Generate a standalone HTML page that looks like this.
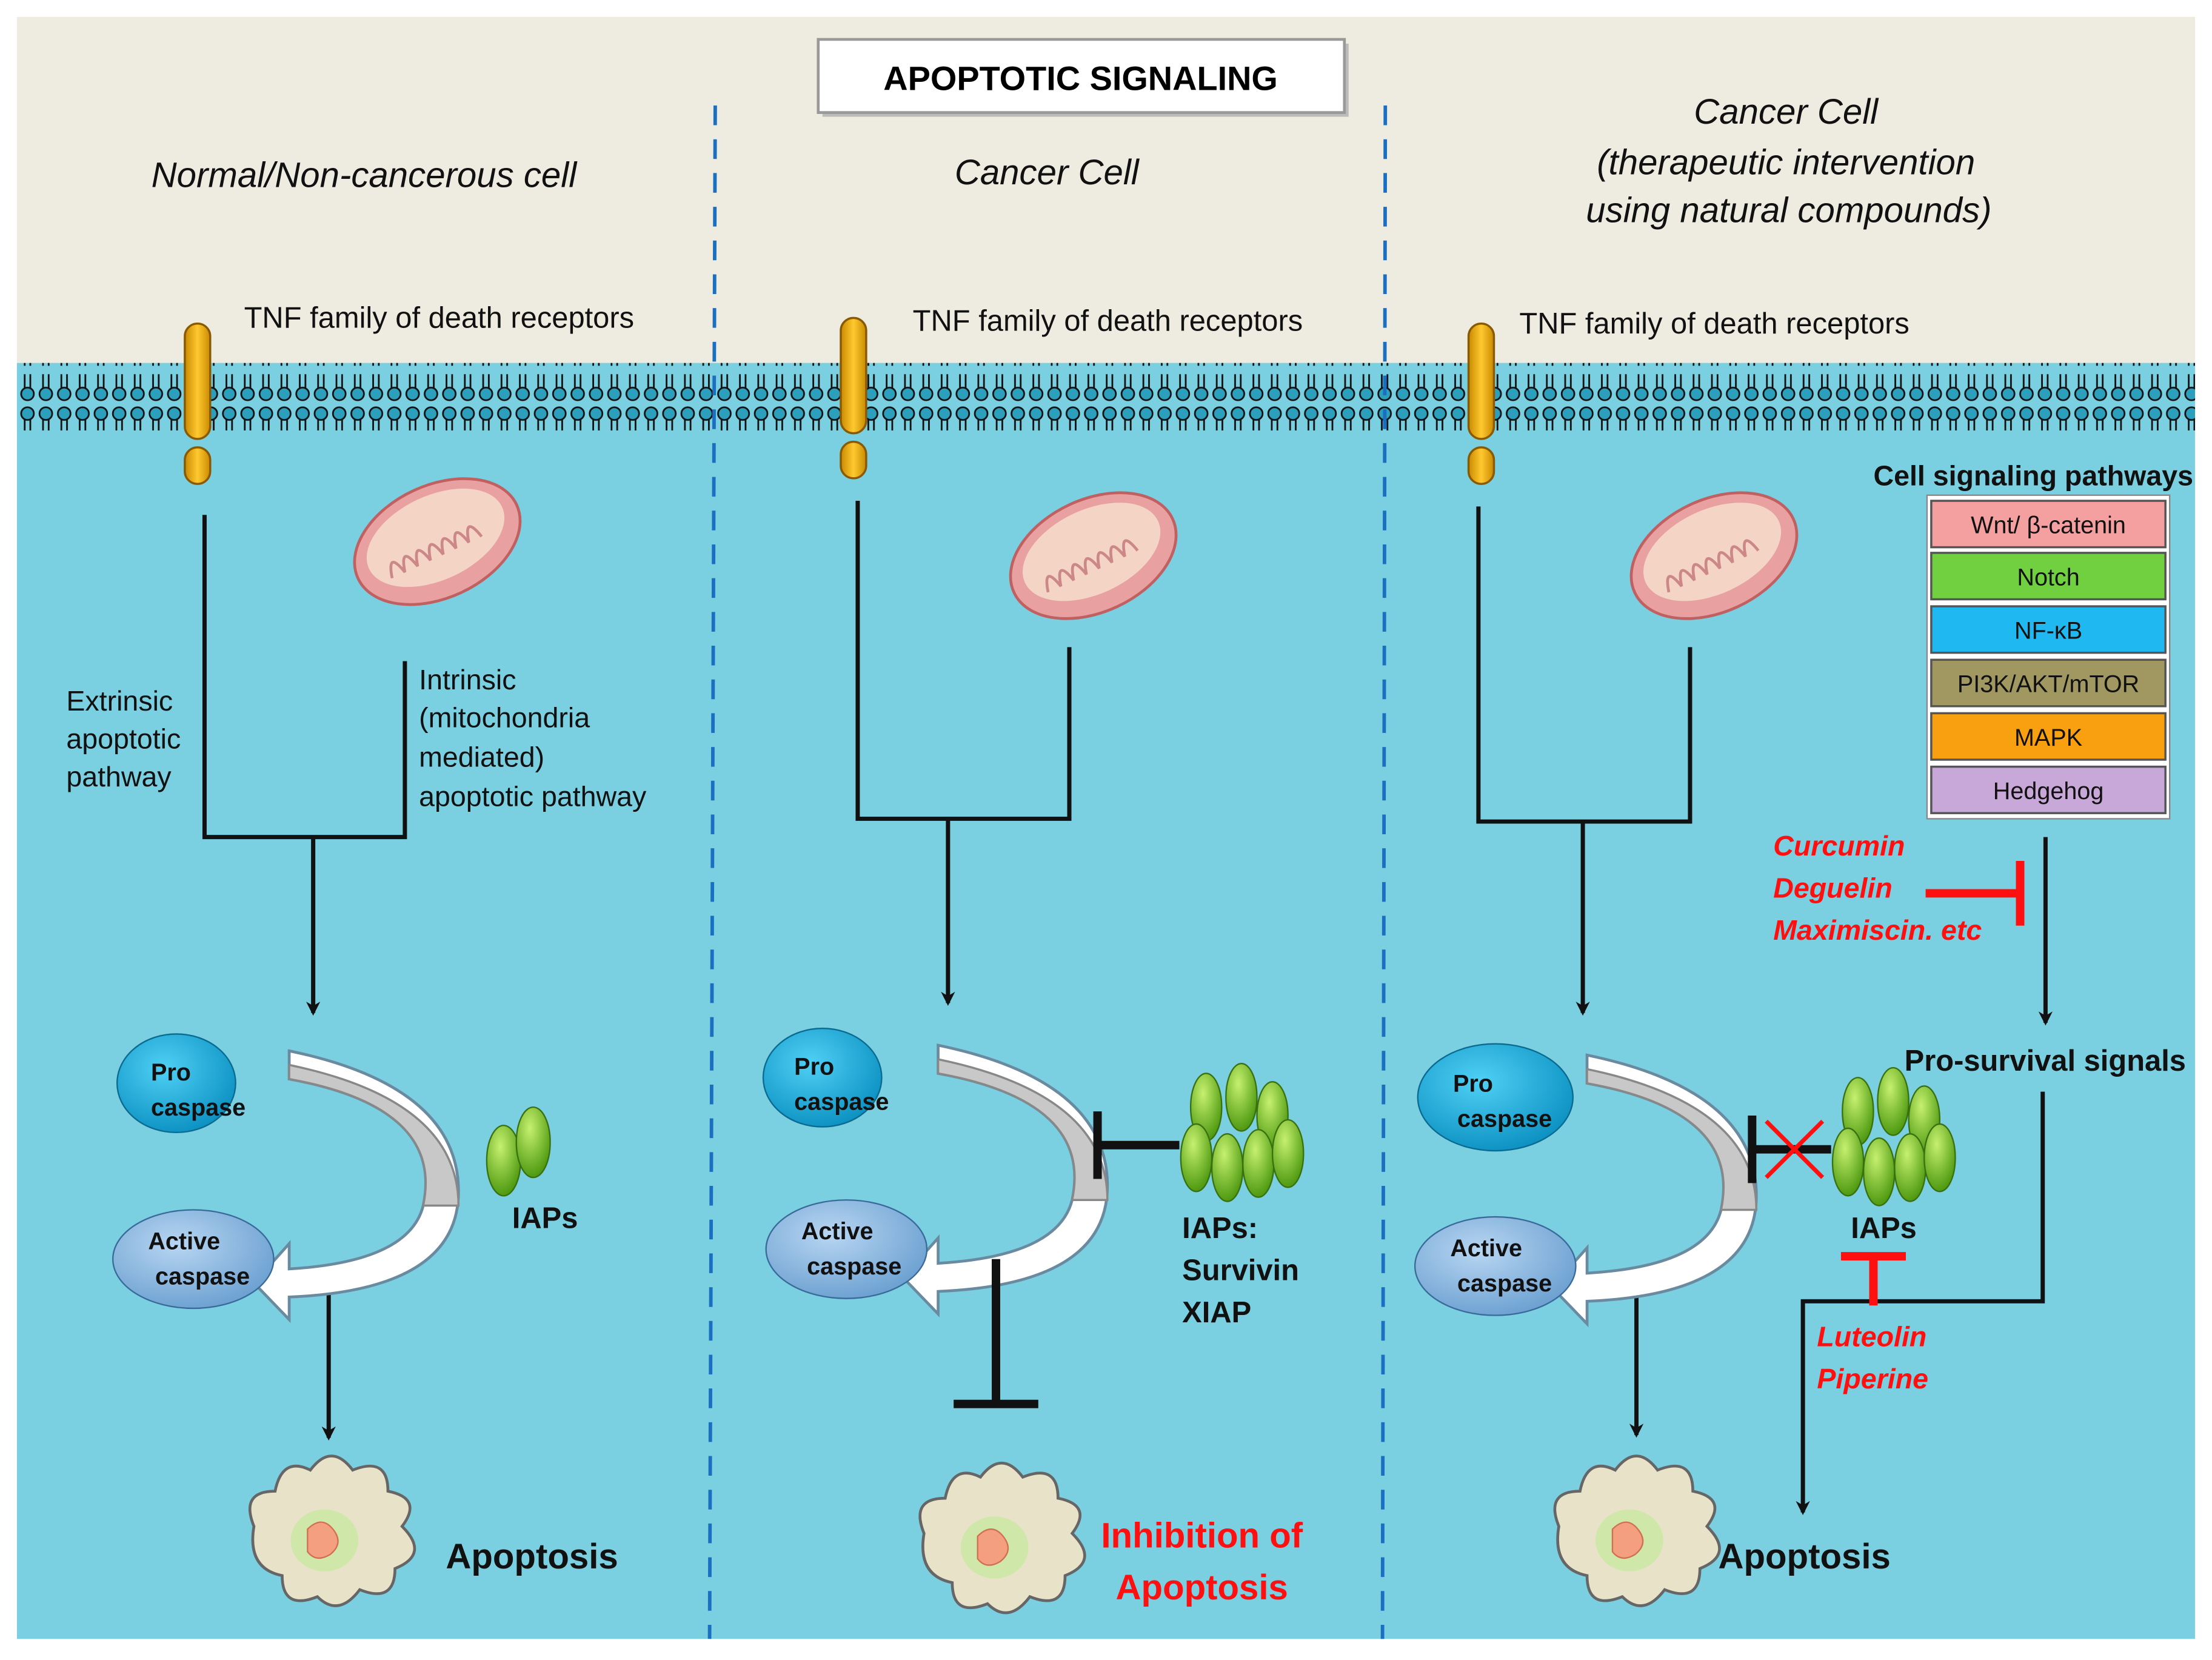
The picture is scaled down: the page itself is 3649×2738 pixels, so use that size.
<!DOCTYPE html>
<html><head><meta charset="utf-8"><style>
html,body{margin:0;padding:0;background:#fff;}
svg{display:block;}
text{font-family:"Liberation Sans",Arial,sans-serif;}
</style></head><body>
<svg width="3649" height="2738" viewBox="0 0 1568 1180" preserveAspectRatio="none" xmlns="http://www.w3.org/2000/svg">
<defs>
<pattern id="lip" x="0" y="0" width="13" height="48" patternUnits="userSpaceOnUse">
<rect width="13" height="48" fill="#7acfe0"/>
<circle cx="6.5" cy="6" r="4.5" fill="#2c9fbd" stroke="#111" stroke-width="1.2"/>
<path d="M4.5 10 L4.5 20 M8.5 10 L8.5 20" stroke="#111" stroke-width="1.2"/>
<circle cx="6.5" cy="40" r="4.5" fill="#2c9fbd" stroke="#111" stroke-width="1.2"/>
<path d="M4.5 26 L4.5 36 M8.5 26 L8.5 36" stroke="#111" stroke-width="1.2"/>
</pattern>
<linearGradient id="rec" x1="0" x2="1"><stop offset="0" stop-color="#c98a00"/><stop offset=".5" stop-color="#ffc830"/><stop offset="1" stop-color="#c98a00"/></linearGradient>
<radialGradient id="pro" cx=".4" cy=".35" r=".7"><stop offset="0" stop-color="#4fd0f5"/><stop offset="1" stop-color="#0a8fc0"/></radialGradient>
<radialGradient id="act" cx=".4" cy=".35" r=".7"><stop offset="0" stop-color="#b8d6f2"/><stop offset="1" stop-color="#6a9fd0"/></radialGradient>
<radialGradient id="iap" cx=".4" cy=".3" r=".7"><stop offset="0" stop-color="#c6f070"/><stop offset="1" stop-color="#4e9a10"/></radialGradient>
<marker id="ar" markerWidth="10" markerHeight="10" refX="8" refY="5" orient="auto" markerUnits="userSpaceOnUse"><path d="M0 0 L10 5 L0 10 L3 5 Z" fill="#111"/></marker>
<g id="mito">
<ellipse cx="0" cy="0" rx="62" ry="40" fill="#e8a0a0" stroke="#c06060" stroke-width="2" transform="rotate(-25)"/>
<ellipse cx="0" cy="-3" rx="52" ry="30" fill="#f4d4c4" transform="rotate(-25)"/>
<path d="M-40 10 q5 -20 10 0 q5 -20 10 0 q5 -20 10 0 q5 -20 10 0 q5 -20 10 0 q5 -20 10 0 q5 -20 10 0" fill="none" stroke="#c88" stroke-width="2" transform="rotate(-25)"/>
</g>
<g id="cell">
<path d="M-50 -10 q-10 -25 15 -25 q5 -25 25 -15 q15 -20 30 0 q25 -10 25 15 q25 5 10 25 q20 20 -5 30 q0 25 -25 15 q-15 20 -30 5 q-25 10 -25 -15 q-25 -5 -20 -35 z" fill="#e8e2c8" stroke="#666" stroke-width="2"/>
<ellipse cx="0" cy="0" rx="24" ry="22" fill="#c8e8a0" opacity=".8"/>
<path d="M-12 -8 q10 -10 18 0 q8 10 -2 18 q-10 6 -16 -2 z" fill="#f4a080" stroke="#d07050"/>
</g>
<g id="rcp">
<rect x="-9" y="0" width="18" height="82" rx="9" fill="url(#rec)" stroke="#8a5a00" stroke-width="1.5"/>
<rect x="-9" y="88" width="18" height="26" rx="9" fill="url(#rec)" stroke="#8a5a00" stroke-width="1.5"/>
</g>
<g id="casp">
<path d="M0 0 q110 20 95 90 q-10 40 -95 45 l0 -18 l-25 28 l25 26 l0 -16 q120 -5 120 -75 q0 -75 -120 -100 z" fill="#fff" stroke="#6a8aa0" stroke-width="2"/>
<path d="M0 0 q110 20 95 90 l25 0 q0 -75 -120 -100 z" fill="#c8c8c8" stroke="#888" stroke-width="1.5"/>
</g>
</defs>

<rect x="12" y="12" width="1544" height="255" fill="#eeece1"/>
<rect x="12" y="262" width="1544" height="903" fill="#7acfe0"/>
<rect x="12" y="258" width="1544" height="48" fill="url(#lip)"/>

<line x1="507" y1="75" x2="503" y2="1165" stroke="#1a6fc0" stroke-width="2.5" stroke-dasharray="14 10"/>
<line x1="982" y1="75" x2="980" y2="1165" stroke="#1a6fc0" stroke-width="2.5" stroke-dasharray="14 10"/>

<rect x="583" y="31" width="373" height="52" fill="#bbb"/>
<rect x="580" y="28" width="373" height="52" fill="#fff" stroke="#999" stroke-width="2"/>
<text x="766" y="64" font-size="24" font-weight="bold" text-anchor="middle">APOPTOTIC SIGNALING</text>

<g font-style="italic" font-size="25" text-anchor="middle" fill="#111">
<text x="258" y="133">Normal/Non-cancerous  cell</text>
<text x="742" y="131">Cancer Cell</text>
<text x="1266" y="88">Cancer Cell</text>
<text x="1266" y="124">(therapeutic intervention</text>
<text x="1268" y="158">using natural compounds)</text>
</g>
<g font-size="21" fill="#111">
<text x="173" y="233">TNF family of death receptors</text>
<text x="647" y="235">TNF family of death receptors</text>
<text x="1077" y="237">TNF family of death receptors</text>
</g>

<use href="#rcp" x="140" y="230"/>
<use href="#rcp" x="605" y="226"/>
<use href="#rcp" x="1050" y="230"/>

<use href="#mito" x="310" y="385"/>
<use href="#mito" x="775" y="395"/>
<use href="#mito" x="1215" y="395"/>

<g stroke="#111" stroke-width="3" fill="none">
<polyline points="145,366 145,595 287,595 287,470"/>
<line x1="222" y1="595" x2="222" y2="720" marker-end="url(#ar)"/>
<polyline points="608,356 608,582 758,582 758,460"/>
<line x1="672" y1="582" x2="672" y2="713" marker-end="url(#ar)"/>
<polyline points="1048,360 1048,584 1198,584 1198,460"/>
<line x1="1122" y1="584" x2="1122" y2="720" marker-end="url(#ar)"/>
<line x1="233" y1="910" x2="233" y2="1022" marker-end="url(#ar)"/>
<line x1="1160" y1="910" x2="1160" y2="1020" marker-end="url(#ar)"/>
<line x1="1450" y1="595" x2="1450" y2="727" marker-end="url(#ar)"/>
<polyline points="1448,776 1448,925 1278,925 1278,1075" marker-end="url(#ar)"/>
</g>
<g font-size="20" fill="#111">
<text x="47" y="505">Extrinsic</text><text x="47" y="532">apoptotic</text><text x="47" y="559">pathway</text>
<text x="297" y="490">Intrinsic</text><text x="297" y="517">(mitochondria</text><text x="297" y="545">mediated)</text><text x="297" y="573">apoptotic pathway</text>
</g>

<!-- caspases -->
<use href="#casp" x="205" y="767"/>
<use href="#casp" x="665" y="763"/>
<use href="#casp" x="1125" y="770"/>
<g font-size="17" font-weight="bold" fill="#111" stroke="none">
<ellipse cx="125" cy="770" rx="42" ry="35" fill="url(#pro)" stroke="#0a6a90"/>
<text x="107" y="768">Pro</text><text x="107" y="793">caspase</text>
<ellipse cx="137" cy="895" rx="57" ry="35" fill="url(#act)" stroke="#3a6a9a"/>
<text x="105" y="888">Active</text><text x="110" y="913">caspase</text>
<ellipse cx="583" cy="766" rx="42" ry="35" fill="url(#pro)" stroke="#0a6a90"/>
<text x="563" y="764">Pro</text><text x="563" y="789">caspase</text>
<ellipse cx="600" cy="888" rx="57" ry="35" fill="url(#act)" stroke="#3a6a9a"/>
<text x="568" y="881">Active</text><text x="572" y="906">caspase</text>
<ellipse cx="1060" cy="780" rx="55" ry="38" fill="url(#pro)" stroke="#0a6a90"/>
<text x="1030" y="776">Pro</text><text x="1033" y="801">caspase</text>
<ellipse cx="1060" cy="900" rx="57" ry="35" fill="url(#act)" stroke="#3a6a9a"/>
<text x="1028" y="893">Active</text><text x="1033" y="918">caspase</text>
</g>

<!-- IAPs -->
<g stroke="#3a7010" stroke-width="1">
<ellipse cx="357" cy="825" rx="12" ry="25" fill="url(#iap)"/>
<ellipse cx="378" cy="812" rx="12" ry="25" fill="url(#iap)"/>
<g transform="translate(880,815)">
<ellipse cx="-25" cy="-28" rx="11" ry="24" fill="url(#iap)"/><ellipse cx="0" cy="-35" rx="11" ry="24" fill="url(#iap)"/><ellipse cx="22" cy="-22" rx="11" ry="24" fill="url(#iap)"/>
<ellipse cx="-32" cy="8" rx="11" ry="24" fill="url(#iap)"/><ellipse cx="-10" cy="15" rx="11" ry="24" fill="url(#iap)"/><ellipse cx="12" cy="12" rx="11" ry="24" fill="url(#iap)"/><ellipse cx="33" cy="5" rx="11" ry="24" fill="url(#iap)"/>
</g>
<g transform="translate(1342,818)">
<ellipse cx="-25" cy="-28" rx="11" ry="24" fill="url(#iap)"/><ellipse cx="0" cy="-35" rx="11" ry="24" fill="url(#iap)"/><ellipse cx="22" cy="-22" rx="11" ry="24" fill="url(#iap)"/>
<ellipse cx="-32" cy="8" rx="11" ry="24" fill="url(#iap)"/><ellipse cx="-10" cy="15" rx="11" ry="24" fill="url(#iap)"/><ellipse cx="12" cy="12" rx="11" ry="24" fill="url(#iap)"/><ellipse cx="33" cy="5" rx="11" ry="24" fill="url(#iap)"/>
</g>
</g>
<g font-size="21" font-weight="bold" fill="#111">
<text x="363" y="873">IAPs</text>
<text x="838" y="880">IAPs:</text><text x="838" y="910">Survivin</text><text x="838" y="940">XIAP</text>
<text x="1312" y="880">IAPs</text>
</g>

<!-- inhibition bars -->
<g stroke="#111" stroke-width="6" fill="none">
<line x1="778" y1="814" x2="836" y2="814"/><line x1="778" y1="790" x2="778" y2="838"/>
<line x1="706" y1="895" x2="706" y2="998"/><line x1="676" y1="998" x2="736" y2="998"/>
<line x1="1242" y1="817" x2="1298" y2="817"/><line x1="1242" y1="793" x2="1242" y2="841"/>
</g>
<g stroke="#ff1010" stroke-width="3">
<line x1="1252" y1="797" x2="1292" y2="837"/><line x1="1292" y1="797" x2="1252" y2="837"/>
</g>
<g stroke="#ff1010" stroke-width="6" fill="none">
<line x1="1328" y1="893" x2="1328" y2="928"/><line x1="1305" y1="893" x2="1351" y2="893"/>
<line x1="1365" y1="635" x2="1432" y2="635"/><line x1="1432" y1="612" x2="1432" y2="658"/>
</g>

<!-- apoptotic cells -->
<use href="#cell" x="230" y="1095"/>
<use href="#cell" x="705" y="1100"/>
<use href="#cell" x="1155" y="1095"/>
<g font-size="25" font-weight="bold">
<text x="316" y="1115" fill="#111">Apoptosis</text>
<text x="1218" y="1115" fill="#111">Apoptosis</text>
<text x="852" y="1100" fill="#ff1010" text-anchor="middle">Inhibition of</text>
<text x="852" y="1137" fill="#ff1010" text-anchor="middle">Apoptosis</text>
</g>

<!-- pathways -->
<text x="1328" y="345" font-size="20" font-weight="bold" fill="#111">Cell signaling pathways</text>
<rect x="1366" y="352" width="172" height="230" fill="#fff" stroke="#888"/>
<g stroke="#555" stroke-width="1.5" font-size="17" text-anchor="middle">
<rect x="1369" y="356" width="166" height="33" fill="#f4a0a0"/>
<rect x="1369" y="393" width="166" height="33" fill="#70d040"/>
<rect x="1369" y="431" width="166" height="33" fill="#20b8f0"/>
<rect x="1369" y="469" width="166" height="33" fill="#a09860"/>
<rect x="1369" y="507" width="166" height="33" fill="#f8a010"/>
<rect x="1369" y="545" width="166" height="33" fill="#c8a8d8"/>
</g>
<g font-size="17" text-anchor="middle" fill="#111" stroke="none">
<text x="1452" y="379">Wnt/ β-catenin</text>
<text x="1452" y="416">Notch</text>
<text x="1452" y="454">NF-κB</text>
<text x="1452" y="492">PI3K/AKT/mTOR</text>
<text x="1452" y="530">MAPK</text>
<text x="1452" y="568">Hedgehog</text>
</g>
<g font-size="20" font-weight="bold" font-style="italic" fill="#ff1010">
<text x="1257" y="608">Curcumin</text>
<text x="1257" y="638">Deguelin</text>
<text x="1257" y="668">Maximiscin. etc</text>
<text x="1288" y="957">Luteolin</text>
<text x="1288" y="987">Piperine</text>
</g>
<text x="1350" y="761" font-size="21" font-weight="bold" fill="#111">Pro-survival signals</text>
</svg>
</body></html>
